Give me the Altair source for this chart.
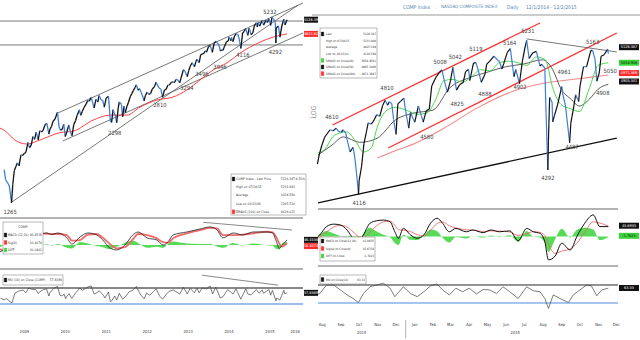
import altair as alt
import pandas as pd

FONT = "Liberation Sans Narrow, DejaVu Sans Condensed, Liberation Sans, sans-serif"
UP = "#111111"
DOWN = "#3b7ddd"
RED = "#ff2b2b"
GREEN = "#3ad43a"
GREY = "#555555"
TXT = "#333333"

# ------------------------------------------------------------------ LEFT (weekly 2009-2015)
left_dates = [
    "2009-01-02", "2009-01-15", "2009-02-02", "2009-02-17", "2009-03-09", "2009-03-20", "2009-04-03", "2009-04-17",
    "2009-05-01", "2009-05-15", "2009-06-01", "2009-06-15", "2009-07-01", "2009-07-15", "2009-08-03", "2009-08-17",
    "2009-09-01", "2009-09-15", "2009-10-01", "2009-10-15", "2009-11-02", "2009-11-16", "2009-12-01", "2009-12-15",
    "2010-01-04", "2010-01-19", "2010-02-05", "2010-02-16", "2010-03-01", "2010-03-15", "2010-04-01", "2010-04-23",
    "2010-05-07", "2010-05-20", "2010-06-04", "2010-06-18", "2010-07-01", "2010-07-16", "2010-08-02", "2010-08-16",
    "2010-08-31", "2010-09-15", "2010-10-01", "2010-10-15", "2010-11-05", "2010-11-16", "2010-12-01", "2010-12-15",
    "2011-01-03", "2011-01-18", "2011-02-01", "2011-02-18", "2011-03-01", "2011-03-16", "2011-04-01", "2011-04-18",
    "2011-04-29", "2011-05-16", "2011-06-01", "2011-06-15", "2011-07-01", "2011-07-22", "2011-08-08", "2011-08-19",
    "2011-09-01", "2011-09-22", "2011-10-03", "2011-10-17", "2011-10-27", "2011-11-15", "2011-11-25", "2011-12-07",
    "2011-12-19",
    "2012-01-03", "2012-01-17", "2012-02-01", "2012-02-15", "2012-03-01", "2012-03-15", "2012-03-27", "2012-04-10",
    "2012-04-25", "2012-05-10", "2012-05-25", "2012-06-04", "2012-06-15", "2012-07-02", "2012-07-16", "2012-08-01",
    "2012-08-15", "2012-09-04", "2012-09-19", "2012-10-01", "2012-10-15", "2012-11-01", "2012-11-15", "2012-12-03",
    "2012-12-17",
    "2013-01-02", "2013-01-15", "2013-02-01", "2013-02-15", "2013-03-01", "2013-03-15", "2013-04-01", "2013-04-18",
    "2013-05-01", "2013-05-21", "2013-06-03", "2013-06-24", "2013-07-08", "2013-07-22", "2013-08-05", "2013-08-27",
    "2013-09-10", "2013-09-19", "2013-10-08", "2013-10-22", "2013-11-05", "2013-11-21", "2013-12-02", "2013-12-13",
    "2013-12-31",
    "2014-01-15", "2014-02-03", "2014-02-18", "2014-03-06", "2014-03-21", "2014-04-03", "2014-04-15", "2014-04-28",
    "2014-05-08", "2014-05-23", "2014-06-10", "2014-06-24", "2014-07-03", "2014-07-17", "2014-07-24", "2014-08-07",
    "2014-08-20", "2014-09-02", "2014-09-19", "2014-10-01", "2014-10-15", "2014-10-31", "2014-11-14", "2014-11-28",
    "2014-12-16", "2014-12-29",
    "2015-01-15", "2015-01-30", "2015-02-13", "2015-03-02", "2015-03-11", "2015-03-20", "2015-04-01", "2015-04-24",
    "2015-05-06", "2015-05-27", "2015-06-09", "2015-06-23", "2015-07-08", "2015-07-20", "2015-08-05", "2015-08-19",
    "2015-08-24", "2015-08-27", "2015-09-16", "2015-09-29", "2015-10-16", "2015-11-03", "2015-11-13", "2015-12-02",
]
left_close = [
    1632, 1511, 1476, 1441, 1268, 1457, 1622, 1673, 1719, 1680, 1828, 1817, 1846, 1862, 2008, 1930,
    1968, 2102, 2057, 2173, 2049, 2197, 2175, 2201,
    2308, 2320, 2142, 2227, 2274, 2362, 2402, 2530, 2265, 2204, 2219, 2309, 2101, 2179, 2295, 2181,
    2114, 2301, 2370, 2468, 2578, 2470, 2549, 2617,
    2691, 2765, 2751, 2834, 2737, 2616, 2789, 2735, 2873, 2782, 2769, 2631, 2816, 2858, 2357, 2341,
    2580, 2455, 2335, 2614, 2738, 2686, 2441, 2649, 2523,
    2648, 2729, 2848, 2915, 2988, 3056, 3120, 2991, 3029, 2933, 2837, 2760, 2872, 2951, 2896, 2920,
    3016, 3075, 3182, 3113, 3044, 3020, 2836, 3002, 3010,
    3112, 3110, 3179, 3192, 3170, 3249, 3239, 3166, 3299, 3502, 3465, 3320, 3484, 3600, 3692, 3579,
    3729, 3789, 3695, 3929, 3940, 3969, 4045, 4000, 4177,
    4215, 3997, 4272, 4352, 4276, 4237, 4034, 4074, 4051, 4185, 4338, 4350, 4486, 4363, 4473, 4334,
    4527, 4598, 4580, 4422, 4116, 4630, 4688, 4791, 4547, 4806,
    4570, 4635, 4893, 5008, 4849, 5026, 4880, 5092, 4919, 5106, 5014, 5160, 4909, 5219, 5140, 5020,
    4292, 4812, 4889, 4487, 4887, 5145, 4927, 5127,
]
left_ema_dates = [
    "2008-11-26", "2009-01-01", "2009-04-08", "2009-07-23", "2009-11-17", "2010-05-15", "2010-09-10", "2011-03-08",
    "2011-08-04", "2012-01-01", "2012-05-01", "2012-09-27", "2013-02-17", "2013-06-21", "2013-10-16", "2014-02-10",
    "2014-06-14", "2014-10-08", "2015-04-05", "2015-07-31", "2015-12-02",
]
left_ema = [2240, 2208, 2046, 1985, 2046, 2165, 2190, 2382, 2475, 2475, 2632, 2777, 2840, 2998, 3236, 3491,
            3689, 3970, 4322, 4490, 4600]

left_macd_dates = [
    "2008-11-26", "2009-01-15", "2009-03-15", "2009-05-01", "2009-07-01", "2009-09-01", "2009-11-01", "2010-01-19",
    "2010-03-01", "2010-04-27", "2010-07-16", "2010-08-29", "2010-11-10", "2011-01-19", "2011-04-08", "2011-06-02",
    "2011-08-03", "2011-10-04", "2011-12-16", "2012-02-24", "2012-04-12", "2012-07-01", "2012-09-27", "2012-11-20",
    "2013-01-05", "2013-02-17", "2013-06-20", "2013-10-16", "2014-01-14", "2014-03-17", "2014-05-08", "2014-08-07",
    "2014-11-03", "2015-02-01", "2015-06-06", "2015-07-25", "2015-08-25", "2015-09-25", "2015-10-20", "2015-12-02",
]
left_macd = [-60, -40, -20, 40, 80, 110, 100, 109, 95, 109, 64, 9, 73, 109, 91, 45, -27, -45, 0, 91,
             118, 64, 45, 0, 30, 91, 118, 145, 164, 136, 64, 109, 91, 118, 118, 110, 40, -30, 0, 46]
left_signal = [-40, -45, -35, 0, 50, 90, 105, 102, 100, 100, 90, 40, 45, 95, 100, 65, 10, -30, -20, 50,
               100, 90, 60, 25, 20, 60, 105, 135, 155, 150, 90, 90, 95, 105, 120, 115, 75, 10, -15, 16]

left_rsi_dates = [
    "2008-12-01", "2009-01-01", "2009-01-20", "2009-02-24", "2009-03-13", "2009-04-08", "2009-05-10", "2009-06-21",
    "2009-07-15", "2009-08-10", "2009-09-05", "2009-10-10", "2009-11-03", "2009-11-17", "2009-12-20", "2010-01-15",
    "2010-02-05", "2010-02-14", "2010-03-20", "2010-04-23", "2010-05-15", "2010-06-05", "2010-06-20", "2010-07-05",
    "2010-07-13", "2010-08-05", "2010-08-28", "2010-10-12", "2010-11-10", "2010-12-01", "2011-01-22", "2011-02-18",
    "2011-03-16", "2011-04-08", "2011-05-01", "2011-06-06", "2011-06-20", "2011-07-22", "2011-08-08", "2011-08-25",
    "2011-09-15", "2011-10-04", "2011-10-27", "2011-11-25", "2011-12-20", "2012-01-20", "2012-02-28", "2012-03-27",
    "2012-04-29", "2012-06-04", "2012-06-27", "2012-07-25", "2012-08-25", "2012-09-19", "2012-10-20", "2012-11-15",
    "2012-12-15", "2013-01-15", "2013-02-21", "2013-04-18", "2013-05-21", "2013-06-24", "2013-07-20", "2013-08-27",
    "2013-09-19", "2013-10-08", "2013-11-05", "2013-12-13", "2014-01-14", "2014-02-05", "2014-03-06", "2014-04-15",
    "2014-05-08", "2014-06-20", "2014-07-12", "2014-08-07", "2014-09-02", "2014-10-15", "2014-11-28", "2014-12-16",
    "2015-01-15", "2015-03-02", "2015-03-26", "2015-04-24", "2015-05-06", "2015-06-23", "2015-07-08", "2015-07-24",
    "2015-08-24", "2015-09-01", "2015-09-29", "2015-10-16", "2015-11-03", "2015-11-13", "2015-12-02",
]
left_rsi = [
    45, 40, 44, 36, 33, 57, 62, 65, 58, 70, 67, 66, 56, 61, 66, 68,
    50, 58, 69, 74, 52, 50, 55, 43, 48, 56, 44, 61, 70, 64, 73, 75,
    55, 58, 63, 52, 45, 60, 35, 40, 50, 40, 57, 42, 48, 60, 65, 74,
    55, 43, 57, 52, 61, 68, 50, 42, 53, 62, 65, 55, 72, 55, 69, 58,
    70, 58, 70, 68, 75, 55, 72, 45, 48, 66, 61, 55, 68, 42, 68, 55,
    53, 66, 57, 65, 57, 66, 52, 64, 38, 45, 40, 52, 64, 55, 58,
]
left_year_labels = ["2009", "2010", "2011", "2012", "2013", "2014", "2015", "2016"]
left_year_pos = ["2009-07-02", "2010-07-02", "2011-07-02", "2012-07-02", "2013-07-02", "2014-07-02",
                 "2015-07-02", "2016-02-12"]
left_year_ticks = ["2010-01-01", "2011-01-01", "2012-01-01", "2013-01-01", "2014-01-01", "2015-01-01", "2016-01-01"]

left_ann_text = ["5232", "4292", "4116", "3946", "3496", "3294", "2810", "2298", "1265"]
left_ann_dates = ["2015-07-02", "2015-08-19", "2014-11-03", "2014-04-12", "2013-11-02", "2013-06-21",
                  "2012-10-23", "2011-09-16", "2009-02-24"]
left_ann_vals = [5437, 4006, 3914, 3571, 3381, 3043, 2673, 2159, 1181]

# trend lines: upper channel, lower channel, 2009 support, two horizontals
left_tl_start_d = ["2010-04-27", "2010-06-10", "2009-03-12", "2008-11-26", "2008-11-26"]
left_tl_start_v = [2515, 2031, 1275, 5075, 4228]
left_tl_end_d = ["2016-04-22", "2016-04-22", "2016-03-10", "2016-04-22", "2016-04-22"]
left_tl_end_v = [5823, 4632, 5735, 5075, 4228]

# ------------------------------------------------------------------ RIGHT (daily Aug 2014 - Dec 2015)
right_dates = [
    "2014-08-08", "2014-08-11", "2014-08-15", "2014-08-20", "2014-08-25", "2014-08-29",
    "2014-09-03", "2014-09-08", "2014-09-12", "2014-09-17", "2014-09-19", "2014-09-24", "2014-09-26",
    "2014-10-01", "2014-10-06", "2014-10-09", "2014-10-13", "2014-10-15", "2014-10-16", "2014-10-20", "2014-10-24",
    "2014-10-28", "2014-10-31",
    "2014-11-05", "2014-11-10", "2014-11-14", "2014-11-19", "2014-11-24", "2014-11-28",
    "2014-12-02", "2014-12-05", "2014-12-09", "2014-12-12", "2014-12-16", "2014-12-19", "2014-12-23", "2014-12-29",
    "2014-12-31",
    "2015-01-06", "2015-01-09", "2015-01-13", "2015-01-16", "2015-01-22", "2015-01-27", "2015-01-30",
    "2015-02-04", "2015-02-09", "2015-02-13", "2015-02-20", "2015-02-25",
    "2015-03-02", "2015-03-06", "2015-03-11", "2015-03-16", "2015-03-20", "2015-03-26", "2015-03-31",
    "2015-04-06", "2015-04-10", "2015-04-15", "2015-04-17", "2015-04-23", "2015-04-27",
    "2015-05-01", "2015-05-06", "2015-05-12", "2015-05-15", "2015-05-20", "2015-05-27",
    "2015-06-01", "2015-06-05", "2015-06-09", "2015-06-12", "2015-06-18", "2015-06-23", "2015-06-29",
    "2015-07-02", "2015-07-08", "2015-07-13", "2015-07-17", "2015-07-20", "2015-07-24", "2015-07-30",
    "2015-08-05", "2015-08-11", "2015-08-14", "2015-08-19", "2015-08-21", "2015-08-24", "2015-08-25", "2015-08-27",
    "2015-08-31",
    "2015-09-01", "2015-09-04", "2015-09-09", "2015-09-16", "2015-09-18", "2015-09-22", "2015-09-29",
    "2015-10-01", "2015-10-06", "2015-10-09", "2015-10-14", "2015-10-16", "2015-10-22", "2015-10-27",
    "2015-11-03", "2015-11-06", "2015-11-10", "2015-11-13", "2015-11-17", "2015-11-20", "2015-11-25",
    "2015-12-01", "2015-12-02",
]
right_close = [
    4334, 4401, 4464, 4527, 4557, 4580,
    4572, 4592, 4568, 4562, 4580, 4556, 4512,
    4422, 4455, 4378, 4214, 4116, 4217, 4316, 4483, 4564, 4630,
    4620, 4651, 4688, 4676, 4755, 4791,
    4755, 4780, 4766, 4653, 4547, 4765, 4781, 4806, 4736,
    4592, 4704, 4661, 4634, 4750, 4681, 4635,
    4717, 4727, 4893, 4955, 4987,
    5008, 4927, 4849, 4930, 5026, 4863, 4901,
    4917, 4996, 5011, 4932, 5056, 5060,
    5005, 4919, 4976, 5049, 5071, 5106,
    5082, 5068, 5014, 5052, 5133, 5160, 4959,
    5009, 4909, 5072, 5163, 5219, 5089, 5129,
    5140, 5036, 5048, 5020, 4706, 4292, 4506, 4812, 4777,
    4636, 4683, 4757, 4889, 4827, 4757, 4487,
    4627, 4749, 4830, 4782, 4887, 5032, 5030,
    5145, 5147, 5083, 4927, 4986, 5105, 5116,
    5156, 5123,
]
ma20_dates = [
    "2014-08-09", "2014-08-20", "2014-09-05", "2014-09-25", "2014-10-10", "2014-10-23", "2014-11-05", "2014-11-15",
    "2014-12-01", "2014-12-15", "2015-01-05", "2015-01-20", "2015-02-05", "2015-02-20", "2015-03-05", "2015-03-20",
    "2015-04-05", "2015-04-20", "2015-05-05", "2015-05-20", "2015-06-05", "2015-06-20", "2015-07-05", "2015-07-20",
    "2015-08-05", "2015-08-20", "2015-09-01", "2015-09-15", "2015-10-01", "2015-10-15", "2015-11-01", "2015-11-15",
    "2015-12-02",
]
ma20 = [4414, 4440, 4540, 4565, 4500, 4421, 4450, 4600, 4720, 4740, 4715, 4690, 4700, 4800, 4930, 4940,
        4920, 4960, 5010, 5000, 5060, 5070, 5060, 5040, 5100, 5080, 4880, 4760, 4730, 4710, 4880, 5040, 5059]
ma50_dates = [
    "2014-08-09", "2014-09-01", "2014-09-20", "2014-10-17", "2014-11-15", "2014-12-15", "2015-01-15", "2015-02-15",
    "2015-03-15", "2015-04-15", "2015-05-15", "2015-06-15", "2015-07-15", "2015-08-15", "2015-09-01", "2015-09-15",
    "2015-10-01", "2015-10-15", "2015-11-01", "2015-11-15", "2015-12-02",
]
ma50 = [4400, 4470, 4529, 4490, 4520, 4650, 4700, 4720, 4880, 4950, 4990, 5030, 5050, 5080, 5010, 4870,
        4800, 4750, 4800, 4870, 4905]
ma200_dates = ["2014-11-15", "2014-12-15", "2015-01-15", "2015-03-01", "2015-05-01", "2015-07-01", "2015-08-15",
               "2015-09-15", "2015-10-15", "2015-11-15", "2015-12-02"]
ma200 = [4378, 4430, 4480, 4580, 4740, 4860, 4910, 4930, 4945, 4962, 4971]

right_macd_dates = [
    "2014-08-09", "2014-08-12", "2014-08-23", "2014-09-04", "2014-09-15", "2014-09-26", "2014-10-06", "2014-10-15",
    "2014-10-23", "2014-11-03", "2014-11-14", "2014-11-25", "2014-12-06", "2014-12-14", "2014-12-20", "2014-12-28",
    "2015-01-09", "2015-01-20", "2015-01-31", "2015-02-11", "2015-02-22", "2015-03-03", "2015-03-14", "2015-03-25",
    "2015-04-11", "2015-04-22", "2015-05-09", "2015-05-22", "2015-06-05", "2015-06-22", "2015-07-06", "2015-07-20",
    "2015-07-31", "2015-08-11", "2015-08-19", "2015-08-25", "2015-09-05", "2015-09-16", "2015-09-30", "2015-10-11",
    "2015-10-24", "2015-11-07", "2015-11-18", "2015-12-02",
]
right_macd = [0, 7, 44, 55, 51, 29, -8, -23, 7, 59, 70, 73, 66, 21, -8, 36, 7, -8, 7, 59, 81, 59, 21, 36,
              21, 29, 17, 29, 21, 25, -19, 36, 21, 14, -23, -104, -87, -30, -60, 0, 59, 96, 44, 44]
right_signal = [-5, -2, 20, 42, 50, 42, 20, 0, -5, 20, 48, 65, 68, 50, 30, 28, 22, 8, 2, 28, 58, 65, 48, 38,
                30, 28, 22, 25, 24, 20, 5, 12, 22, 18, 5, -35, -75, -65, -55, -30, 20, 65, 60, 46]

right_rsi_dates = [
    "2014-08-09", "2014-08-12", "2014-08-23", "2014-09-04", "2014-09-15", "2014-09-26", "2014-10-06", "2014-10-15",
    "2014-10-23", "2014-11-03", "2014-11-14", "2014-11-25", "2014-12-06", "2014-12-14", "2014-12-28", "2015-01-09",
    "2015-01-20", "2015-01-31", "2015-02-11", "2015-02-22", "2015-03-03", "2015-03-14", "2015-03-25", "2015-04-05",
    "2015-04-16", "2015-04-28", "2015-05-09", "2015-05-20", "2015-05-31", "2015-06-11", "2015-06-22", "2015-07-06",
    "2015-07-20", "2015-07-31", "2015-08-11", "2015-08-19", "2015-08-25", "2015-09-02", "2015-09-13", "2015-09-27",
    "2015-10-05", "2015-10-16", "2015-10-27", "2015-11-04", "2015-11-13", "2015-11-21", "2015-12-02",
]
right_rsi = [50, 51, 70, 70, 59, 48, 40, 31, 51, 66, 70, 74, 63, 44, 66, 51, 44, 55, 68, 72, 59, 48, 63, 55,
             63, 50, 60, 59, 51, 66, 55, 40, 66, 57, 55, 40, 18, 48, 40, 31, 48, 59, 70, 68, 46, 59, 63]

right_month_labels = ["Aug", "Sep", "Oct", "Nov", "Dec", "Jan", "Feb", "Mar", "Apr", "May", "Jun", "Jul",
                      "Aug", "Sep", "Oct", "Nov", "Dec"]
right_month_pos = ["2014-08-16", "2014-09-16", "2014-10-16", "2014-11-16", "2014-12-16", "2015-01-16",
                   "2015-02-15", "2015-03-16", "2015-04-16", "2015-05-16", "2015-06-16", "2015-07-16",
                   "2015-08-16", "2015-09-16", "2015-10-16", "2015-11-16", "2015-12-15"]
right_month_ticks = ["2014-09-01", "2014-10-01", "2014-11-01", "2014-12-01", "2015-01-01", "2015-02-01",
                     "2015-03-01", "2015-04-01", "2015-05-01", "2015-06-01", "2015-07-01", "2015-08-01",
                     "2015-09-01", "2015-10-01", "2015-11-01", "2015-12-01"]
right_year_labels = ["2014", "2015"]
right_year_pos = ["2014-10-20", "2015-07-01"]

right_ann_text = ["4610", "4810", "5008", "5042", "5119", "5164", "5231", "5163", "4961", "5050", "4908",
                  "4902", "4888", "4825", "4580", "4487", "4292", "4116"]
right_ann_dates = ["2014-09-01", "2014-12-01", "2015-02-27", "2015-03-24", "2015-04-27", "2015-06-22",
                   "2015-07-22", "2015-11-06", "2015-09-20", "2015-12-05", "2015-11-23", "2015-07-09",
                   "2015-05-12", "2015-03-27", "2015-02-05", "2015-10-03", "2015-08-24", "2014-10-16"]
right_ann_vals = [4671, 4879, 5064, 5100, 5157, 5200, 5286, 5207, 4993, 5000, 4843, 4886, 4836, 4764,
                  4529, 4457, 4236, 4057]

right_red_start_d = ["2014-09-02", "2014-12-03"]
right_red_start_v = [4614, 4450]
right_red_end_d = ["2015-08-11", "2015-12-16"]
right_red_end_v = [5343, 5271]
right_grey_start_d = ["2015-07-20"]
right_grey_start_v = [5229]
right_grey_end_d = ["2015-12-16"]
right_grey_end_v = [5136]
right_black_start_d = ["2014-08-09"]
right_black_start_v = [4057]
right_black_end_d = ["2015-12-16"]
right_black_end_v = [4521]

for a, b in [(left_dates, left_close), (left_ema_dates, left_ema), (left_macd_dates, left_macd),
             (left_macd_dates, left_signal), (left_rsi_dates, left_rsi), (right_dates, right_close),
             (ma20_dates, ma20), (ma50_dates, ma50), (ma200_dates, ma200), (right_macd_dates, right_macd),
             (right_macd_dates, right_signal), (right_rsi_dates, right_rsi)]:
    assert len(a) == len(b), (len(a), len(b))


# ------------------------------------------------------------------ helpers
def dt(s):
    y, m, d = (int(p) for p in s.split("-"))
    return alt.DateTime(year=y, month=m, date=d)


ONE = alt.Data(values=[{"k": 1}])


def series(dates, values):
    return pd.DataFrame({"date": dates, "v": values})


def segments(dates, values):
    rows = []
    for i in range(1, len(dates)):
        direction = "up" if values[i] >= values[i - 1] else "down"
        rows.append({"seg": i, "date": dates[i - 1], "v": values[i - 1], "dir": direction})
        rows.append({"seg": i, "date": dates[i], "v": values[i], "dir": direction})
    return pd.DataFrame(rows)


def trend(sd, sv, ed, ev):
    rows = []
    for i in range(len(sd)):
        rows.append({"id": i, "date": sd[i], "v": sv[i]})
        rows.append({"id": i, "date": ed[i], "v": ev[i]})
    return pd.DataFrame(rows)


def text_at(txt, x, y, size=5, color=TXT, align="left", angle=None):
    kw = dict(text=txt, fontSize=size, color=color, align=align, baseline="middle", font=FONT)
    if angle is not None:
        kw["angle"] = angle
    return alt.Chart(ONE).mark_text(**kw).encode(x=alt.value(x), y=alt.value(y))


def box(x, y, x2, y2, fill="white", stroke="#8a8a8a", sw=0.6):
    return alt.Chart(ONE).mark_rect(fill=fill, stroke=stroke, strokeWidth=sw).encode(
        x=alt.value(x), x2=alt.value(x2), y=alt.value(y), y2=alt.value(y2))


def hline(x, x2, y, color="#9a9a9a", sw=1.5):
    return alt.Chart(ONE).mark_rule(color=color, strokeWidth=sw).encode(
        x=alt.value(x), x2=alt.value(x2), y=alt.value(y))


def legend(x0, y0, x1, y1, labels, values, swatches, lab_x, val_x, row_y0, dy, size=3.4):
    out = [box(x0, y0, x1, y1)]
    for i in range(len(labels)):
        yy = row_y0 + i * dy
        if swatches[i]:
            out.append(box(x0 + 1.2, yy - 2, x0 + 3.8, yy + 2, fill=swatches[i], stroke=swatches[i], sw=0.3))
        out.append(text_at(labels[i], lab_x, yy, size=size))
        out.append(text_at(values[i], val_x, yy, size=size, align="right"))
    return out


def badge(bx, scale, value, label, fill, width, tcolor="white"):
    d = pd.DataFrame({"v": [value], "t": [label]})
    y = alt.Y("v:Q", scale=scale, axis=None)
    tick = alt.Chart(d).mark_tick(orient="horizontal", thickness=6, color=fill, opacity=1).encode(
        x=alt.value(bx), y=y, size=alt.value(width))
    txt = alt.Chart(d).mark_text(fontSize=3.8, color=tcolor, font=FONT, baseline="middle").encode(
        x=alt.value(bx), y=y, text="t:N")
    return [tick, txt]


AX = dict(labelFontSize=4, labelColor=TXT, labelFont=FONT, tickSize=2, tickColor="#666", domainColor="#8a8a8a",
          labelPadding=1, title=None, grid=False)

# ------------------------------------------------------------------ scales
LX = alt.Scale(domain=[dt("2008-11-26"), dt("2016-04-22")], range=[0, 303], nice=False)
L_PRICE = alt.Scale(type="log", domain=[1137, 5868], range=[217, 2], nice=False)
L_MACD = alt.Scale(domain=[-209, 236], range=[268, 219], nice=False, zero=False)
L_RSI = alt.Scale(domain=[-5, 115], range=[318, 270], nice=False, zero=False)

RX = alt.Scale(domain=[dt("2014-08-09"), dt("2015-12-18")], range=[318, 618], nice=False)
R_PRICE = alt.Scale(domain=[4021, 5400], range=[208, 15], nice=False, zero=False)
R_MACD = alt.Scale(domain=[-126.7, 117.8], range=[265, 210], nice=False, zero=False)
R_RSI = alt.Scale(domain=[-7.8, 110], range=[320, 267], nice=False, zero=False)

DIRC = alt.Color("dir:N", scale=alt.Scale(domain=["up", "down"], range=[UP, DOWN]), legend=None)


def X(sc, axis=None):
    return alt.X("date:T", scale=sc, axis=axis)


def Y(sc, field="v", axis=None):
    return alt.Y(f"{field}:Q", scale=sc, axis=axis)


ANN = dict(fontSize=5.8, color="#444", font=FONT)

# ------------------------------------------------------------------ LEFT price panel
lp_axis = alt.Axis(orient="right", offset=-337, values=[2000, 3000, 4000], format="d", **AX)
left_price = alt.layer(
    alt.Chart(trend(left_tl_start_d, left_tl_start_v, left_tl_end_d, left_tl_end_v)).mark_line(
        color=GREY, strokeWidth=0.8).encode(x=X(LX), y=Y(L_PRICE), detail="id:N"),
    alt.Chart(series(left_ema_dates, left_ema)).mark_line(color=RED, strokeWidth=0.9, interpolate="monotone").encode(
        x=X(LX), y=Y(L_PRICE)),
    alt.Chart(segments(left_dates, left_close)).mark_line(strokeWidth=1.3).encode(
        x=X(LX), y=Y(L_PRICE, axis=lp_axis), detail="seg:N", color=DIRC),
    alt.Chart(pd.DataFrame({"date": left_ann_dates, "v": left_ann_vals, "t": left_ann_text})).mark_text(
        **ANN).encode(x=X(LX), y=Y(L_PRICE), text="t:N"),
)

# ------------------------------------------------------------------ LEFT MACD panel
lm_df = pd.DataFrame({"date": left_macd_dates, "macd": left_macd, "sig": left_signal})
lm_axis = alt.Axis(orient="right", offset=-337, values=[-200, -100, 100, 200], **AX)
left_macd_panel = alt.layer(
    alt.Chart(lm_df).transform_calculate(diff="datum.macd - datum.sig").mark_area(
        color=GREEN, opacity=0.85, interpolate="monotone").encode(
        x=X(LX), y=Y(L_MACD, "diff"), y2=alt.datum(0)),
    alt.Chart(lm_df).mark_line(color="#f06a6a", strokeWidth=1.8, interpolate="monotone").encode(
        x=X(LX), y=Y(L_MACD, "sig")),
    alt.Chart(lm_df).mark_line(color="#222", strokeWidth=0.8, interpolate="monotone").encode(
        x=X(LX), y=Y(L_MACD, "macd", axis=lm_axis)),
    alt.Chart(trend(["2013-11-13"], [206], ["2016-01-15"], [136])).mark_line(
        color=GREY, strokeWidth=0.7).encode(x=X(LX), y=Y(L_MACD), detail="id:N"),
)

# ------------------------------------------------------------------ LEFT RSI panel
lr_axis_y = alt.Axis(orient="right", offset=-337, values=[0, 100], **AX)
lr_axis_x = alt.Axis(orient="bottom", offset=-22, values=[dt(s) for s in left_year_ticks], labels=False,
                     tickSize=20, tickColor="#9a9a9a", domainColor="#8a8a8a", grid=False, title=None)
lvl = pd.DataFrame({"lvl": [70, 30], "c": ["hi", "lo"]})
LVLC = alt.Color("c:N", scale=alt.Scale(domain=["hi", "lo"], range=[RED, GREEN]), legend=None)
left_rsi_panel = alt.layer(
    alt.Chart(lvl).mark_rule(strokeWidth=1).encode(
        y=Y(L_RSI, "lvl"), x=alt.value(0), x2=alt.value(303), color=LVLC),
    alt.Chart(series(left_rsi_dates, left_rsi)).mark_line(color="#444", strokeWidth=0.7).encode(
        x=X(LX, axis=lr_axis_x), y=Y(L_RSI, axis=lr_axis_y)),
    alt.Chart(trend(["2013-11-02"], [102], ["2015-09-13"], [77])).mark_line(
        color=GREY, strokeWidth=0.7).encode(x=X(LX), y=Y(L_RSI), detail="id:N"),
    alt.Chart(pd.DataFrame({"date": left_year_pos, "t": left_year_labels})).mark_text(
        fontSize=4, color=TXT, font=FONT).encode(x=X(LX), y=alt.value(332), text="t:N"),
)

# ------------------------------------------------------------------ RIGHT price panel
rp_axis = alt.Axis(orient="right", offset=-22, values=[4200, 4400, 4600, 4800, 5000, 5200], format="d", **AX)
right_price = alt.layer(
    alt.Chart(trend(right_black_start_d, right_black_start_v, right_black_end_d, right_black_end_v)).mark_line(
        color="#111", strokeWidth=1.3).encode(x=X(RX), y=Y(R_PRICE), detail="id:N"),
    alt.Chart(trend(right_red_start_d, right_red_start_v, right_red_end_d, right_red_end_v)).mark_line(
        color=RED, strokeWidth=1.2).encode(x=X(RX), y=Y(R_PRICE), detail="id:N"),
    alt.Chart(trend(right_grey_start_d, right_grey_start_v, right_grey_end_d, right_grey_end_v)).mark_line(
        color=GREY, strokeWidth=0.8).encode(x=X(RX), y=Y(R_PRICE), detail="id:N"),
    alt.Chart(series(ma200_dates, ma200)).mark_line(color="#f08a8a", strokeWidth=1.1, interpolate="monotone").encode(
        x=X(RX), y=Y(R_PRICE)),
    alt.Chart(series(ma50_dates, ma50)).mark_line(color="#333", strokeWidth=0.8, interpolate="monotone").encode(
        x=X(RX), y=Y(R_PRICE)),
    alt.Chart(series(ma20_dates, ma20)).mark_line(color=GREEN, strokeWidth=0.9, interpolate="monotone").encode(
        x=X(RX), y=Y(R_PRICE)),
    alt.Chart(segments(right_dates, right_close)).mark_line(strokeWidth=1.2).encode(
        x=X(RX), y=Y(R_PRICE, axis=rp_axis), detail="seg:N", color=DIRC),
    alt.Chart(pd.DataFrame({"date": right_ann_dates, "v": right_ann_vals, "t": right_ann_text})).mark_text(
        **ANN).encode(x=X(RX), y=Y(R_PRICE), text="t:N"),
)

# ------------------------------------------------------------------ RIGHT MACD panel
rm_df = pd.DataFrame({"date": right_macd_dates, "macd": right_macd, "sig": right_signal})
rm_axis = alt.Axis(orient="right", offset=-22, values=[-100, -50, 50, 100], **AX)
right_macd_panel = alt.layer(
    alt.Chart(rm_df).transform_calculate(diff="datum.macd - datum.sig").mark_area(
        color=GREEN, opacity=0.85, interpolate="monotone").encode(
        x=X(RX), y=Y(R_MACD, "diff"), y2=alt.datum(0)),
    alt.Chart(rm_df).mark_line(color="#f06a6a", strokeWidth=0.9, interpolate="monotone").encode(
        x=X(RX), y=Y(R_MACD, "sig")),
    alt.Chart(rm_df).mark_line(color="#111", strokeWidth=1.0, interpolate="monotone").encode(
        x=X(RX), y=Y(R_MACD, "macd", axis=rm_axis)),
)

# ------------------------------------------------------------------ RIGHT RSI panel
rr_axis_y = alt.Axis(orient="right", offset=-22, values=[0, 50, 100], **AX)
rr_axis_x = alt.Axis(orient="bottom", offset=-20, values=[dt(s) for s in right_month_ticks], labels=False,
                     tickSize=3, tickColor="#9a9a9a", domainColor="#8a8a8a", grid=False, title=None)
right_rsi_panel = alt.layer(
    alt.Chart(lvl).mark_rule(strokeWidth=0.9).encode(
        y=Y(R_RSI, "lvl"), x=alt.value(318), x2=alt.value(618), color=LVLC),
    alt.Chart(series(right_rsi_dates, right_rsi)).mark_line(color="#444", strokeWidth=0.7).encode(
        x=X(RX, axis=rr_axis_x), y=Y(R_RSI, axis=rr_axis_y)),
    alt.Chart(pd.DataFrame({"date": right_month_pos, "t": right_month_labels})).mark_text(
        fontSize=4, color=TXT, font=FONT).encode(x=X(RX), y=alt.value(325), text="t:N"),
    alt.Chart(pd.DataFrame({"date": right_year_pos, "t": right_year_labels})).mark_text(
        fontSize=4, color=TXT, font=FONT).encode(x=X(RX), y=alt.value(333), text="t:N"),
    alt.Chart(pd.DataFrame({"date": ["2015-01-01"]})).mark_rule(color="#9a9a9a", strokeWidth=0.8).encode(
        x=X(RX), y=alt.value(320), y2=alt.value(338)),
)

# ------------------------------------------------------------------ frames, legends, badges, titles
TITLE_C = "#4f85b0"
deco = [
    hline(0, 303, 218), hline(0, 303, 269),
    hline(318, 618, 209), hline(318, 618, 266),
    hline(312, 640, 15, color="#9a9a9a", sw=1.2),
    text_at("COMP Index", 403, 7, size=5, color=TITLE_C),
    text_at(":", 435, 7, size=5, color=TITLE_C),
    text_at("NASDAQ COMPOSITE INDEX", 441, 7, size=4.5, color=TITLE_C),
    text_at("Daily", 507, 7, size=5, color=TITLE_C),
    text_at("12/1/2014 - 12/2/2015", 526, 7, size=5, color=TITLE_C),
    text_at("LOG", 314, 112, size=7, color="#999", align="center", angle=270),
]
legends = []
legends += legend(231, 174, 306, 215,
                  ["COMP Index - Last Price", "High on 07/24/15", "Average", "Low on 03/13/09",
                   "EMAVG (100) on Close"],
                  ["5126.387", "5231.943", "3024.580", "1265.520", "4624.622"],
                  ["#111", None, None, None, RED], 236, 295, 179, 8.2, size=3.3)
legends += [text_at("4.56%", 305, 179, size=3.3, align="right")]
legends += legend(3, 222, 43, 254, ["MACD (12,26)", "Sig(9)", "DIFF"],
                  ["46.4538", "16.4074", "30.0461"], ["#111", RED, GREEN], 8, 42, 235, 7.5, size=3.3)
legends += [text_at("COMP", 23, 227, size=3.5, align="center")]
legends += legend(3, 275, 63, 285, ["RSI (14) on Close (COMP)"], ["57.8389"], ["#111"], 8, 62, 280, 7, size=3.3)
legends += legend(320, 28, 377, 78,
                  ["Last", "High on 07/20/15", "Average", "Low on 10/15/14", "SMAVG on Close(20)",
                   "SMAVG on Close(50)", "SMAVG on Close(200)"],
                  ["5126.387", "5231.940", "4825.549", "4116.599", "5058.9561", "4905.3406", "4971.3687"],
                  ["#111", None, None, None, GREEN, "#111", RED], 326, 376, 34, 6.6, size=3.0)
legends += legend(320, 237, 375, 261, ["MACD on Close(12,26)", "Signal on Close(9)", "DIFF on Close"],
                  ["43.8935", "45.6758", "-1.7823"], ["#111", RED, GREEN], 326, 374, 241, 7.5, size=3.0)
legends += legend(320, 275, 366, 284, ["RSI on Close(14)"], ["63.33"], ["#111"], 326, 365, 279.5, 7, size=3.0)

badges = []
badges += badge(311, L_PRICE, 5126.387, "5126.39", "#111", 14)
badges += badge(311, L_PRICE, 4600, "4624.62", RED, 14)
badges += badge(311, L_MACD, -10, "16.4074", RED, 14)
badges += badge(311, L_MACD, 46.45, "46.4538", "#111", 14)
badges += badge(311, L_RSI, 57.84, "57.8389", "#111", 14)
badges += badge(629, R_PRICE, 5170, "5126.387", "#111", 20)
badges += badge(629, R_PRICE, 5058.96, "5058.956", GREEN, 20, tcolor="#111")
badges += badge(629, R_PRICE, 4985, "4971.369", RED, 20)
badges += badge(629, R_PRICE, 4925, "4905.341", "#111", 20)
badges += badge(629, R_MACD, 48, "43.8935", "#111", 20)
badges += badge(629, R_MACD, 3, "-1.7823", GREEN, 20, tcolor="#111")
badges += badge(629, R_RSI, 63.33, "63.33", "#111", 20)

panels = [left_price, left_macd_panel, left_rsi_panel, right_price, right_macd_panel, right_rsi_panel]
chart = alt.layer(*(deco + panels + legends + badges)).resolve_scale(
    x="independent", y="independent"
).properties(
    width=640, height=340, autosize=alt.AutoSizeParams(type="none"), padding=0, background="white"
).configure_view(stroke=None)

chart.save("out.html", embed_options={"renderer": "svg", "actions": False})
